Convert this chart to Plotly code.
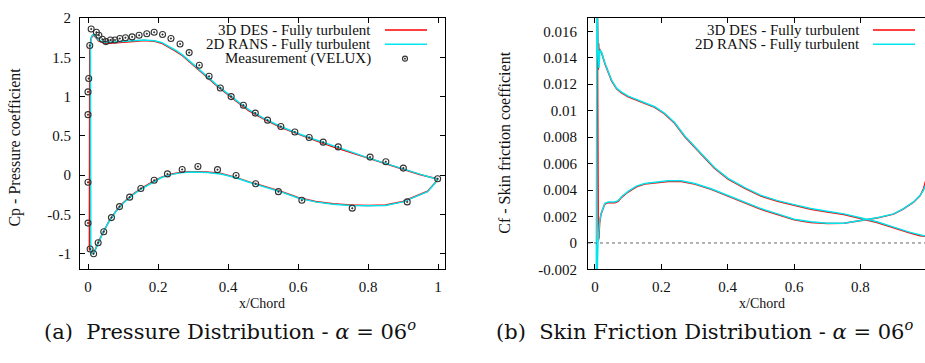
import plotly.graph_objects as go

W, H = 925, 363

# ---------------- Data: pressure coefficient (a) ----------------
# RANS (cyan) upper branch from leading edge to trailing edge
cp_rans_up_x = [0.006, 0.007, 0.009, 0.012, 0.016, 0.02, 0.025, 0.03, 0.04, 0.05, 0.07, 0.1, 0.13, 0.16,
                0.19, 0.21, 0.23, 0.25, 0.27, 0.29, 0.31, 0.33, 0.35, 0.37, 0.4, 0.43, 0.46, 0.5,
                0.55, 0.6, 0.65, 0.7, 0.75, 0.8, 0.85, 0.9, 0.95, 0.98, 1.0]
cp_rans_up = [-0.95, 1.60, 1.74, 1.78, 1.79, 1.78, 1.75, 1.72, 1.70, 1.69, 1.69, 1.70, 1.71, 1.72,
              1.71, 1.69, 1.64, 1.59, 1.53, 1.46, 1.38, 1.30, 1.22, 1.14, 1.03, 0.93, 0.83, 0.73,
              0.62, 0.53, 0.45, 0.37, 0.30, 0.22, 0.15, 0.08, 0.01, -0.03, -0.05]
# RANS lower branch from leading edge to trailing edge
cp_rans_lo_x = [0.006, 0.008, 0.011, 0.015, 0.02, 0.03, 0.045, 0.06, 0.08, 0.1, 0.125, 0.15, 0.18, 0.21,
                0.24, 0.27, 0.3, 0.34, 0.38, 0.42, 0.46, 0.5, 0.55, 0.6, 0.65, 0.7, 0.75, 0.8,
                0.85, 0.9, 0.94, 0.97, 0.99, 1.0]
cp_rans_lo = [-0.95, -0.98, -1.0, -1.0, -0.96, -0.85, -0.71, -0.59, -0.46, -0.36, -0.26, -0.18, -0.10, -0.03,
              0.01, 0.035, 0.04, 0.035, 0.015, -0.03, -0.09, -0.14, -0.21, -0.29, -0.34, -0.37, -0.385, -0.39,
              -0.385, -0.34, -0.27, -0.21, -0.11, -0.05]
# DES (red), very close to RANS
cp_des_up_x = [0.004, 0.005, 0.008, 0.012, 0.016, 0.02, 0.025, 0.03, 0.04, 0.05, 0.07, 0.1, 0.13, 0.16,
               0.19, 0.21, 0.23, 0.25, 0.27, 0.29, 0.31, 0.33, 0.35, 0.37, 0.4, 0.43, 0.46, 0.5,
               0.55, 0.6, 0.65, 0.7, 0.75, 0.8, 0.85, 0.9, 0.95, 0.98, 1.0]
cp_des_up = [-0.95, 1.58, 1.73, 1.77, 1.78, 1.77, 1.74, 1.71, 1.69, 1.675, 1.68, 1.69, 1.70, 1.715,
             1.705, 1.68, 1.63, 1.58, 1.52, 1.45, 1.37, 1.29, 1.21, 1.13, 1.02, 0.92, 0.82, 0.72,
             0.61, 0.52, 0.44, 0.36, 0.29, 0.215, 0.145, 0.075, 0.005, -0.03, -0.05]
cp_des_lo_x = [0.004, 0.007, 0.01, 0.015, 0.02, 0.03, 0.045, 0.06, 0.08, 0.1, 0.125, 0.15, 0.18, 0.21,
               0.24, 0.27, 0.3, 0.34, 0.38, 0.42, 0.46, 0.5, 0.55, 0.6, 0.65, 0.7, 0.75, 0.8,
               0.85, 0.9, 0.94, 0.97, 0.99, 1.0]
cp_des_lo = [-0.93, -0.97, -0.99, -0.995, -0.955, -0.845, -0.705, -0.585, -0.455, -0.355, -0.255, -0.175, -0.095, -0.025,
             0.015, 0.04, 0.045, 0.04, 0.02, -0.025, -0.085, -0.135, -0.205, -0.285, -0.335, -0.365, -0.38, -0.385,
             -0.38, -0.335, -0.265, -0.205, -0.105, -0.05]
# Measurement (VELUX)
meas_x = [0.0, 0.0, 0.002, 0.005, 0.009, 0.024, 0.031, 0.041, 0.051, 0.064, 0.077, 0.091, 0.107, 0.126,
          0.146, 0.168, 0.189, 0.213, 0.237, 0.263, 0.289, 0.318, 0.346, 0.378, 0.409, 0.444, 0.478,
          0.513, 0.551, 0.591, 0.632, 0.672, 0.715, 0.806, 0.851, 0.901, 0.999,
          0.0, 0.0, 0.006, 0.016, 0.029, 0.045, 0.067, 0.090, 0.119, 0.151, 0.189, 0.227, 0.269,
          0.314, 0.370, 0.423, 0.479, 0.544, 0.611, 0.755, 0.912]
meas_cp = [0.77, 1.06, 1.23, 1.65, 1.86, 1.82, 1.78, 1.73, 1.70, 1.72, 1.72, 1.74, 1.75, 1.76,
           1.78, 1.80, 1.82, 1.79, 1.74, 1.67, 1.56, 1.40, 1.26, 1.11, 1.00, 0.89, 0.79,
           0.70, 0.62, 0.55, 0.48, 0.42, 0.36, 0.23, 0.17, 0.09, -0.045,
           -0.09, -0.61, -0.94, -1.0, -0.86, -0.72, -0.54, -0.40, -0.28, -0.17, -0.065, 0.016, 0.073,
           0.11, 0.07, -0.004, -0.11, -0.21, -0.32, -0.42, -0.34]

# ---------------- Data: skin friction coefficient (b) ----------------
cf_up_x = [0.015, 0.02, 0.03, 0.04, 0.05, 0.065, 0.08, 0.1, 0.12, 0.15, 0.18, 0.21, 0.24, 0.27, 0.3,
           0.33, 0.36, 0.4, 0.45, 0.5, 0.55, 0.6, 0.65, 0.7, 0.75, 0.8, 0.85, 0.9, 0.95, 0.98, 1.0]
cf_rans_up = [0.0146, 0.0144, 0.0136, 0.0129, 0.0123, 0.0117, 0.0114, 0.0111, 0.0109, 0.0106, 0.0103, 0.0098,
              0.0091, 0.0081, 0.0073, 0.0065, 0.0057, 0.0049, 0.0042, 0.0036, 0.0032, 0.0029, 0.0026, 0.0024,
              0.0022, 0.0019, 0.0016, 0.0012, 0.0008, 0.0006, 0.0005]
cf_des_up = [0.0146, 0.01435, 0.01355, 0.01285, 0.01225, 0.01165, 0.01135, 0.01105, 0.01085, 0.01055, 0.01025, 0.00975,
             0.00905, 0.00805, 0.00725, 0.00645, 0.00565, 0.00485, 0.00415, 0.00355, 0.00315, 0.00285, 0.00255, 0.00235,
             0.00215, 0.00185, 0.00155, 0.00115, 0.00075, 0.00055, 0.0005]
cf_lo_x = [0.014, 0.018, 0.025, 0.03, 0.04, 0.06, 0.07, 0.08, 0.1, 0.125, 0.15, 0.18, 0.22, 0.26, 0.3,
           0.35, 0.4, 0.45, 0.5, 0.55, 0.6, 0.65, 0.7, 0.75, 0.8, 0.85, 0.9, 0.93, 0.96, 0.98, 0.99, 1.0]
cf_rans_lo = [0.0016, 0.0022, 0.0027, 0.0030, 0.0031, 0.0031, 0.0032, 0.0035, 0.0039, 0.0043, 0.0045, 0.0046,
              0.0047, 0.0047, 0.0045, 0.0041, 0.0036, 0.0031, 0.0026, 0.0022, 0.0018, 0.0016, 0.0015, 0.0015,
              0.0017, 0.0019, 0.0022, 0.0026, 0.0031, 0.0036, 0.0040, 0.0046]
cf_des_lo = [0.0015, 0.00215, 0.00265, 0.00295, 0.00305, 0.00305, 0.00315, 0.00345, 0.00385, 0.00425, 0.00445, 0.00455,
             0.00465, 0.00465, 0.00445, 0.00405, 0.00355, 0.00305, 0.00255, 0.00215, 0.00175, 0.00155, 0.00148, 0.0015,
             0.00168, 0.00188, 0.00218, 0.00258, 0.00308, 0.00358, 0.0041, 0.0050]
# leading-edge spikes (LE portion between upper and lower branches)
cf_rans_le_x = [0.012, 0.009, 0.006, 0.004, 0.006, 0.009, 0.012]
cf_rans_le = [0.0132, 0.0150, 0.0190, -0.0030, -0.0030, 0.0000, 0.0010]
cf_des_le_x = [0.012, 0.011, 0.010, 0.009, 0.007, 0.010, 0.012]
cf_des_le = [0.0145, 0.0151, 0.0131, 0.0152, 0.0180, 0.0002, 0.0004]

# ---------------- Tick labels ----------------
x_ticks = [0, 0.2, 0.4, 0.6, 0.8, 1.0]
x_ticktext = ["0", "0.2", "0.4", "0.6", "0.8", "1"]
cp_ticks = [-1, -0.5, 0, 0.5, 1, 1.5, 2]
cp_ticktext = ["-1", "-0.5", "0", "0.5", "1", "1.5", "2"]
cf_ticks = [-0.002, 0, 0.002, 0.004, 0.006, 0.008, 0.01, 0.012, 0.014, 0.016]
cf_ticktext = ["-0.002", "0", "0.002", "0.004", "0.006", "0.008", "0.01", "0.012", "0.014", "0.016"]

series_names = ["3D DES - Fully turbulent", "2D RANS - Fully turbulent", "Measurement (VELUX)"]

RED = "#ff0000"
CYAN = "#00e5ee"
SERIF = "Liberation Serif"
CAPFONT = "DejaVu Serif"

def loop(up_x, up_y, lo_x, lo_y, le_x=None, le_y=None):
    xs = list(reversed(up_x))
    ys = list(reversed(up_y))
    if le_x:
        xs += le_x
        ys += le_y
    return xs + lo_x, ys + lo_y

fig = go.Figure()

# (a) pressure
x, y = loop(cp_des_up_x, cp_des_up, cp_des_lo_x, cp_des_lo)
fig.add_trace(go.Scatter(x=x, y=y, mode="lines", line=dict(color=RED, width=1.5),
                         name=series_names[0], xaxis="x", yaxis="y"))
x, y = loop(cp_rans_up_x, cp_rans_up, cp_rans_lo_x, cp_rans_lo)
fig.add_trace(go.Scatter(x=x, y=y, mode="lines", line=dict(color=CYAN, width=1.5),
                         name=series_names[1], xaxis="x", yaxis="y"))
fig.add_trace(go.Scatter(x=meas_x, y=meas_cp, mode="markers",
                         marker=dict(symbol="circle-open-dot", size=6, color="#333333",
                                     line=dict(width=1.1, color="#333333")),
                         name=series_names[2], xaxis="x", yaxis="y"))

# (b) skin friction
x, y = loop(cf_up_x, cf_des_up, cf_lo_x, cf_des_lo, cf_des_le_x, cf_des_le)
fig.add_trace(go.Scatter(x=x, y=y, mode="lines", line=dict(color=RED, width=1.5),
                         name=series_names[0], xaxis="x2", yaxis="y2"))
x, y = loop(cf_up_x, cf_rans_up, cf_lo_x, cf_rans_lo, cf_rans_le_x, cf_rans_le)
fig.add_trace(go.Scatter(x=x, y=y, mode="lines", line=dict(color=CYAN, width=1.5),
                         name=series_names[1], xaxis="x2", yaxis="y2"))

def px(v):
    return v / W

def py(v):
    return 1 - v / H

tickfont = dict(family=SERIF, size=15, color="#111")
axcommon = dict(showline=True, linecolor="black", linewidth=1, ticks="inside", ticklen=5,
                tickcolor="black", tickwidth=1, showgrid=False, zeroline=False, tickfont=tickfont)

y_dom = [py(273.5), py(10.5)]
fig.update_layout(
    width=W, height=H, margin=dict(l=0, r=0, t=0, b=0),
    paper_bgcolor="white", plot_bgcolor="white", showlegend=False,
    xaxis=dict(domain=[px(80), px(445)], range=[-0.0229, 1.02], tickvals=x_ticks, ticktext=x_ticktext,
               mirror="ticks", anchor="y", ticklabelstandoff=4, **axcommon),
    yaxis=dict(domain=y_dom, range=[-1.2, 2.0], tickvals=cp_ticks, ticktext=cp_ticktext,
               mirror="ticks", anchor="x", ticklabelstandoff=5, **axcommon),
    xaxis2=dict(domain=[px(588), 1.0], range=[-0.021, 0.9945], tickvals=x_ticks[:-1], ticktext=x_ticktext[:-1],
                mirror="ticks", anchor="y2", ticklabelstandoff=4, **axcommon),
    yaxis2=dict(domain=y_dom, range=[-0.002, 0.017], tickvals=cf_ticks, ticktext=cf_ticktext,
                mirror=False, anchor="x2", ticklabelstandoff=7, **axcommon),
)

# zero line (dotted) in skin friction plot
fig.add_shape(type="line", xref="x2 domain", yref="y2", x0=0, x1=1, y0=0, y1=0,
              line=dict(color="#666666", width=1, dash="dot"))

annos = []
# axis titles
annos.append(dict(text="Cp - Pressure coefficient", x=px(15), y=py(146), textangle=-90,
                  font=dict(family=SERIF, size=16, color="#111")))
annos.append(dict(text="Cf - Skin friction coefficient", x=px(505), y=py(141), textangle=-90,
                  font=dict(family=SERIF, size=16, color="#111")))
annos.append(dict(text="x/Chord", x=px(262), y=py(309), font=dict(family=SERIF, size=14, color="#111")))
annos.append(dict(text="x/Chord", x=px(762), y=py(309), font=dict(family=SERIF, size=14, color="#111")))
# captions
annos.append(dict(text="(a)&nbsp; Pressure Distribution - <i>α</i> = 06<sup><i>o</i></sup>",
                  x=px(230), y=py(337), font=dict(family=CAPFONT, size=21, color="#111")))
annos.append(dict(text="(b)&nbsp; Skin Friction Distribution - <i>α</i> = 06<sup><i>o</i></sup>",
                  x=px(704), y=py(337), font=dict(family=CAPFONT, size=21, color="#111")))
# legend texts (a)
for i, name in enumerate(series_names):
    annos.append(dict(text=name, x=px(373), y=py(23 + 15 * i), xanchor="right"))
# legend texts (b)
for i, name in enumerate(series_names[:2]):
    annos.append(dict(text=name, x=px(862), y=py(23 + 15 * i), xanchor="right"))

for a in annos:
    a.setdefault("xanchor", "center")
    a.setdefault("yanchor", "middle")
    a.setdefault("font", dict(family=SERIF, size=15, color="#111"))
    fig.add_annotation(xref="paper", yref="paper", showarrow=False, **a)

# legend samples
for (x0, x1), rows in [((385, 427), [(RED, 23), (CYAN, 38)]), ((873, 915), [(RED, 23), (CYAN, 38)])]:
    for col, yy in rows:
        fig.add_shape(type="line", xref="paper", yref="paper", x0=px(x0), x1=px(x1), y0=py(yy), y1=py(yy),
                      line=dict(color=col, width=1.5))
# legend marker glyph for measurement
fig.add_shape(type="circle", xref="paper", yref="paper", xsizemode="pixel", ysizemode="pixel",
              xanchor=px(405), yanchor=py(53), x0=-2.5, x1=2.5, y0=-2.5, y1=2.5,
              line=dict(color="#333333", width=1.1))
fig.add_shape(type="circle", xref="paper", yref="paper", xsizemode="pixel", ysizemode="pixel",
              xanchor=px(405), yanchor=py(53), x0=-0.6, x1=0.6, y0=-0.6, y1=0.6,
              line=dict(color="#333333", width=1), fillcolor="#333333")

fig.write_html("out.html")
